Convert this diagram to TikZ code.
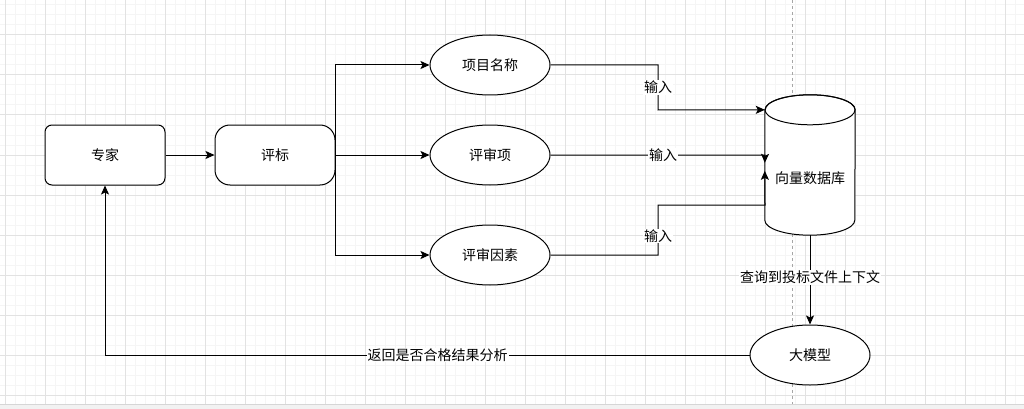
\documentclass[tikz,border=0pt]{standalone}
\usepackage{fontspec}
\setmainfont{Noto Sans CJK SC}
\usetikzlibrary{arrows.meta,shapes.geometric,calc}

\definecolor{gridmajor}{HTML}{E2E2E2}
\definecolor{gridminor}{HTML}{F5F5F5}
\definecolor{pageedge}{HTML}{D6D6D6}
\definecolor{pagebg}{HTML}{F2F2F2}

\begin{document}
\begin{tikzpicture}[x=1pt,y=-1pt,
  every node/.style={font=\fontsize{14pt}{16pt}\selectfont},
  edge/.style={line width=1pt,-{Stealth[length=9pt,width=8pt,inset=2pt]}},
  softbox/.style={draw,line width=1pt,fill=white,minimum width=120pt,minimum height=60pt,inner sep=0pt},
  oval/.style={draw,ellipse,line width=1pt,fill=white,minimum width=120pt,minimum height=60pt,inner sep=0pt},
  lbl/.style={fill=white,inner sep=1pt}]

% canvas, grid and page guides
\useasboundingbox (0,0) rectangle (1024,409);
\fill[white] (0,0) rectangle (1024,404);
\foreach \x in {5,15,...,1015} \draw[gridminor,line width=1pt] (\x,0) -- (\x,404);
\foreach \y in {5,15,...,395} \draw[gridminor,line width=1pt] (0,\y) -- (1024,\y);
\foreach \x in {5,45,...,1005} \draw[gridmajor,line width=1pt] (\x,0) -- (\x,404);
\foreach \y in {35,75,...,395} \draw[gridmajor,line width=1pt] (0,\y) -- (1024,\y);
\fill[pagebg] (0,404) rectangle (1024,409);
\draw[pageedge,line width=1pt] (0,404.5) -- (1024,404.5);
\draw[gray!70,line width=0.8pt,dash pattern=on 3pt off 3pt] (792.5,0) -- (792.5,404);

% nodes
\node[softbox,rounded corners=7pt] (zj) at (105,155) {专家};
\node[softbox,rounded corners=15pt] (pb) at (275,155) {评标};
\node[oval] (xm) at (490,65) {项目名称};
\node[oval] (psx) at (490,155) {评审项};
\node[oval] (psys) at (490,255) {评审因素};
\node[oval] (dmx) at (810,355) {大模型};

% vector database cylinder
\node[minimum width=90pt,minimum height=140pt,inner sep=0pt] (db) at (810,165) {};
\filldraw[fill=white,line width=1pt]
  ($(db.north west)+(0,15)$) -- ($(db.south west)+(0,-15)$)
  arc[start angle=180,end angle=360,x radius=45pt,y radius=15pt]
  -- ($(db.north east)+(0,15)$)
  arc[start angle=0,end angle=180,x radius=45pt,y radius=15pt] -- cycle;
\draw[line width=1pt] ($(db.north)+(0,15)$) ellipse[x radius=45pt,y radius=15pt];
\node (dbtext) at (810,178) {向量数据库};

% end points on the cylinder wall
\coordinate (in1) at ($(db.north west)+(0,15)$);
\coordinate (in2) at ($(db.north west)+(0,68)$);
\coordinate (in3) at ($(db.north west)+(0,76)$);

% connectors
\draw[edge] (zj) -- (pb);
\draw[edge] (pb.east) |- (xm.west);
\draw[edge] (pb) -- (psx);
\draw[edge] (pb.east) |- (psys.west);

\draw[edge] (xm.east) -| node[lbl,pos=0.75] {输入} (658,110) -- (in1);
\draw[edge] (psx.east) -- (765,155) -- (in2);
\node[lbl] at (663,155) {输入};
\draw[edge] (psys.east) -| node[lbl,pos=0.69] {输入} (658,205) -- (765,205) -- (in3);

\draw[edge] (db.south) -- node[lbl,pos=0.47] {查询到投标文件上下文} (dmx.north);
\draw[edge] (dmx.west) -| node[lbl,pos=0.242] {返回是否合格结果分析} (zj.south);

\end{tikzpicture}
\end{document}
